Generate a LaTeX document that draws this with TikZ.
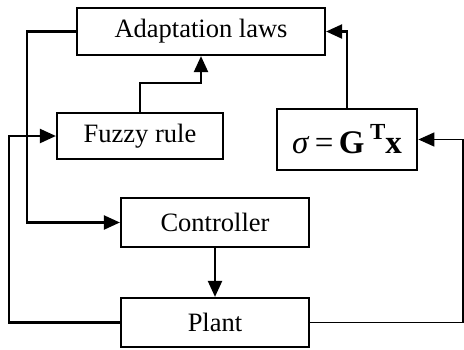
\documentclass[tikz,border=0pt]{standalone}
\usepackage{fontspec}
\setmainfont{Liberation Serif}
\usetikzlibrary{arrows.meta}
\begin{document}
\begin{tikzpicture}[x=1pt,y=-1pt,
  block/.style={draw,line width=2.2pt,inner sep=0pt,font=\fontsize{26.5}{30}\selectfont},
  link/.style={line width=2.2pt},
  arr/.style={link,-{Triangle[length=16pt,width=14pt]}}]
  \useasboundingbox (0,0) rectangle (464,349);
  % blocks
  \node[block,minimum width=248pt,minimum height=47pt] (adapt) at (201,31.5) {Adaptation laws};
  \node[block,minimum width=166pt,minimum height=46pt] (fuzzy) at (140,136) {Fuzzy rule};
  \node[block,line width=2.8pt,minimum width=140pt,minimum height=61pt,
        font=\fontsize{33}{36}\selectfont] (sigma) at (347,139.5)
        {\textit{σ}\,=\,\textbf{G}\,\raisebox{0.42em}{\fontsize{23}{26}\selectfont\textbf{T}}\textbf{x}};
  \node[block,minimum width=188pt,minimum height=49pt] (ctrl) at (215,222.5) {Controller};
  \node[block,minimum width=188pt,minimum height=49pt] (plant) at (215,322.5) {Plant};
  % signal paths
  \draw[arr] (adapt.west) -- ++(-49,0) |- (ctrl.west);
  \draw[arr] (fuzzy.north) -- ++(0,-29) -| (adapt.south);
  \draw[arr] (sigma.north) |- (adapt.east);
  \draw[arr] (ctrl.south) -- (plant.north);
  \draw[arr] (plant.west) -- ++(-111,0) |- (fuzzy.west);
  \draw[arr,line width=1.6pt] (plant.east) -- ++(153,0) |- (sigma.east);
\end{tikzpicture}
\end{document}
